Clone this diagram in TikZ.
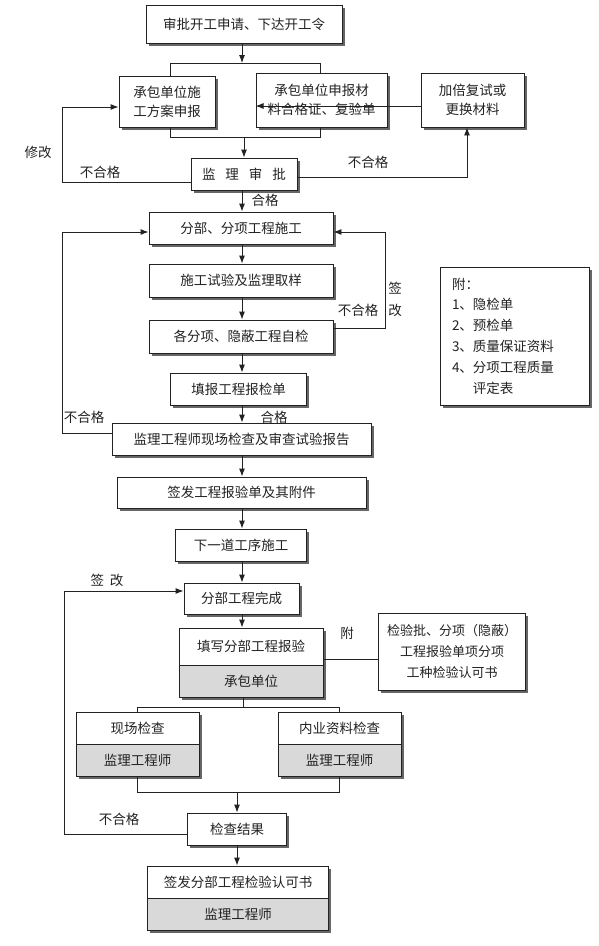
\documentclass[tikz,border=0pt]{standalone}
\usepackage{fontspec}
\newfontfamily\cjk{Noto Sans CJK SC}
\usetikzlibrary{shadows,arrows.meta}
\definecolor{lncol}{HTML}{222222}
\definecolor{gfill}{HTML}{D9D9D9}
\begin{document}
\begin{tikzpicture}[x=1pt,y=-1pt,
 box/.style={draw=lncol, line width=0.9pt, fill=white, inner sep=2pt, align=center,
   drop shadow={shadow xshift=2.5pt, shadow yshift=-2.5pt, fill=black!70, opacity=0.85},
   font=\cjk\fontsize{13.5}{19}\selectfont, text=lncol},
 gbox/.style={box, fill=gfill},
 arr/.style={draw=lncol, line width=0.9pt, -{Latex[length=8pt,width=6pt]}},
 conn/.style={draw=lncol, line width=0.9pt},
 lbl/.style={font=\cjk\fontsize{13.5}{17}\selectfont, inner sep=0pt, text=lncol}]
\useasboundingbox[fill=white] (0,0) rectangle (598,946);

% nodes
\node[box, minimum width=196pt, minimum height=38pt] (start) at (244,24) {审批开工申请、下达开工令};
\node[box, minimum width=96pt, minimum height=51pt] (plan) at (167,101.5) {承包单位施\\工方案申报};
\node[box, minimum width=131pt, minimum height=54pt] (mat) at (321.5,100) {承包单位申报材\\料合格证、复验单};
\node[box, minimum width=103pt, minimum height=54pt] (dbl) at (472.5,100) {加倍复试或\\更换材料};
\node[box, minimum width=106pt, minimum height=32pt] (audit) at (244,174) {监\hspace{10pt}理\hspace{10pt}审\hspace{10pt}批};
\node[box, minimum width=184pt, minimum height=32pt] (fb) at (241,228) {分部、分项工程施工};
\node[box, minimum width=184pt, minimum height=33pt] (test) at (241,280.5) {施工试验及监理取样};
\node[box, minimum width=184pt, minimum height=33pt] (self) at (241,336.5) {各分项、隐蔽工程自检};
\node[box, minimum width=136pt, minimum height=32pt] (fill) at (238.5,389) {填报工程报检单};
\node[box, minimum width=259pt, minimum height=32pt] (insp) at (241.5,439) {监理工程师现场检查及审查试验报告};
\node[box, minimum width=249pt, minimum height=31pt] (sign) at (241.5,492.5) {签发工程报验单及其附件};
\node[box, minimum width=131pt, minimum height=32pt] (next) at (241,545) {下一道工序施工};
\node[box, minimum width=115pt, minimum height=31pt] (done) at (241.5,598.5) {分部工程完成};
\node[box, minimum width=144pt, minimum height=37pt] (rep) at (251,646.5) {填写分部工程报验};
\node[gbox, minimum width=144pt, minimum height=32pt] (repb) at (251,681) {承包单位};
\node[box, minimum width=147.5pt, minimum height=77pt, font=\cjk\fontsize{13}{21}\selectfont] (attach) at (452,651.5) {检验批、分项（隐蔽）\\工程报验单项分项\\工种检验认可书};
\node[box, minimum width=123pt, minimum height=32pt] (site) at (137.5,728) {现场检查};
\node[gbox, minimum width=123pt, minimum height=32pt] (siteb) at (137.5,760) {监理工程师};
\node[box, minimum width=123pt, minimum height=32pt] (docs) at (339.5,728) {内业资料检查};
\node[gbox, minimum width=123pt, minimum height=32pt] (docsb) at (339.5,760) {监理工程师};
\node[box, minimum width=98.5pt, minimum height=32pt] (chk) at (237,829) {检查结果};
\node[box, minimum width=180.5pt, minimum height=32pt] (fin) at (238,882) {签发分部工程检验认可书};
\node[gbox, minimum width=180.5pt, minimum height=32pt] (finb) at (238,914) {监理工程师};
\node[box, minimum width=148.5pt, minimum height=138pt, align=left, text width=126pt,
  font=\cjk\fontsize{13.5}{20.8}\selectfont] (legend) at (515,336)
  {附：\\1、隐检单\\2、预检单\\3、质量保证资料\\4、分项工程质量\\\phantom{4、}评定表};

% helper coordinates
\coordinate (mc) at (242,0);
\coordinate (btL) at (170,63);
\coordinate (btR) at (320,63);
\coordinate (bbL) at (170,137);
\coordinate (bbR) at (320,137);
\coordinate (b3) at (243,707);
\coordinate (b3L) at (137.5,707);
\coordinate (b3R) at (339.5,707);
\coordinate (b4) at (237,792);
\coordinate (b4L) at (137.5,792);
\coordinate (b4R) at (339.5,792);
\coordinate (c1) at (62.5,107);
\coordinate (c2) at (62.5,232);
\coordinate (c3) at (385,232);
\coordinate (c4) at (64,591);

% top part
\draw[arr] (start.south -| mc) -- (mc |- btL);
\draw[conn] (plan.north -| btL) -- (btL) -- (btR) -- (mat.north -| btR);
\draw[conn] (plan.south -| bbL) -- (bbL) -- (bbR) -- (mat.south -| bbR);
\draw[arr] (audit.north |- bbL) -- (audit.north);
\draw[arr] ([yshift=-8pt]audit.west) -| (c1) -- ([yshift=-5.5pt]plan.west);
\draw[arr] ([yshift=-3pt]audit.east) -| ([xshift=-5.5pt]dbl.south);
\draw[arr] ([yshift=-6pt]dbl.west) -- ([yshift=-6pt]mat.west);
\draw[arr] (audit.south -| mc) -- (fb.north -| mc);

% main chain
\draw[arr] (fb.south -| mc) -- (test.north -| mc);
\draw[arr] (test.south -| mc) -- (self.north -| mc);
\draw[arr] (self.south -| mc) -- (fill.north -| mc);
\draw[arr] (fill.south -| mc) -- (insp.north -| mc);
\draw[arr] (insp.south -| mc) -- (sign.north -| mc);
\draw[arr] (sign.south -| mc) -- (next.north -| mc);
\draw[arr] (next.south -| mc) -- (done.north -| mc);
\draw[arr] (done.south -| mc) -- (rep.north -| mc);
\draw[arr] ([yshift=6pt]insp.west) -| (c2) -- ([yshift=-4pt]fb.west);
\draw[arr] ([yshift=8.5pt]self.east) -| (c3) -- ([yshift=-4pt]fb.east);

% lower part
\draw[conn] ([yshift=-12.5pt]rep.east) -- ([yshift=-12.5pt]rep.east -| attach.west);
\draw[conn] (repb.south -| b3) -- (b3);
\draw[conn] (site.north) -- (b3L) -- (b3R) -- (docs.north);
\draw[conn] (siteb.south) -- (b4L) -- (b4R) -- (docsb.south);
\draw[arr] (b4) -- (chk.north);
\draw[arr] (chk.south) -- (chk.south |- fin.north);
\draw[arr] ([yshift=-5pt]chk.west) -| (c4) -- ([yshift=7.5pt]done.west);

% labels
\node[lbl] (t1) at (38,152) {修改};
\node[lbl] (t2) at (100,172) {不合格};
\node[lbl] (t3) at (368,162) {不合格};
\node[lbl] (t4) at (265,200) {合格};
\node[lbl] (t5) at (395,288) {签};
\node[lbl] (t6) at (395,310) {改};
\node[lbl] (t7) at (358,310) {不合格};
\node[lbl] (t8) at (84,417) {不合格};
\node[lbl] (t9) at (274,417) {合格};
\node[lbl] (t10) at (107,580) {签\hspace{6pt}改};
\node[lbl] (t11) at (347,633) {附};
\node[lbl] (t12) at (119,819) {不合格};
\end{tikzpicture}
\end{document}
